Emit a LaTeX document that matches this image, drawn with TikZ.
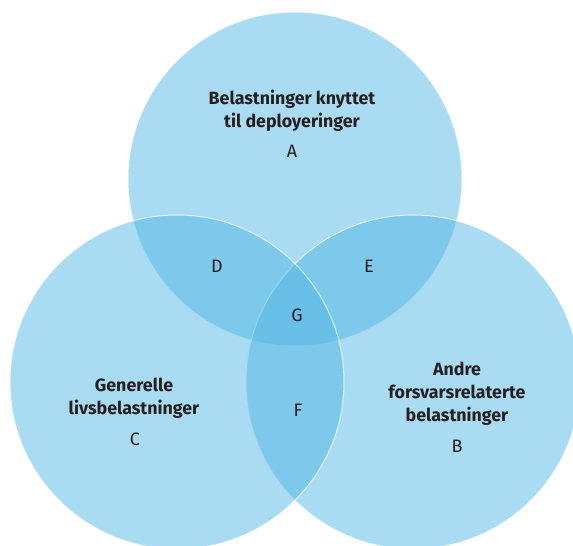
\documentclass[tikz,border=0pt]{standalone}
\usepackage{fontspec}
\setmainfont{Fira Sans}
\usepackage{tikz}

\definecolor{vennblue}{RGB}{83,183,229}
\definecolor{textgray}{RGB}{35,31,32}

\begin{document}
\begin{tikzpicture}[
		every node/.style={text=textgray},
		set/.style={circle, minimum size=334pt, fill=vennblue, fill opacity=0.5, draw=white, draw opacity=0.7, line width=1pt},
		heading/.style={align=center, font=\bfseries\fontsize{17.8pt}{23pt}\selectfont},
		region/.style={font=\fontsize{18pt}{20pt}\selectfont}
	]
  \useasboundingbox (0pt, 0pt) rectangle (573pt, -546pt);
  \node (set_a) [set] at (295pt, -179pt) {};
  \node (set_b) [set] at (413pt, -382pt) {};
  \node (set_c) [set] at (177pt, -382pt) {};
  \node (a_title) [heading] at (292pt, -110.5pt) {Belastninger knyttet\\til deployeringer};
  \node (b_title) [heading] at (457pt, -393.5pt) {Andre\\forsvarsrelaterte\\belastninger};
  \node (c_title) [heading] at (134pt, -398.5pt) {Generelle\\livsbelastninger};
  \node (a) [region] at (292pt, -151pt) {A};
  \node (b) [region] at (457pt, -446pt) {B};
  \node (c) [region] at (135pt, -439pt) {C};
  \node (d) [region] at (217pt, -266pt) {D};
  \node (e) [region] at (369pt, -266pt) {E};
  \node (g) [region] at (297pt, -315pt) {G};
  \node (f) [region] at (298pt, -410pt) {F};
\end{tikzpicture}
\end{document}
